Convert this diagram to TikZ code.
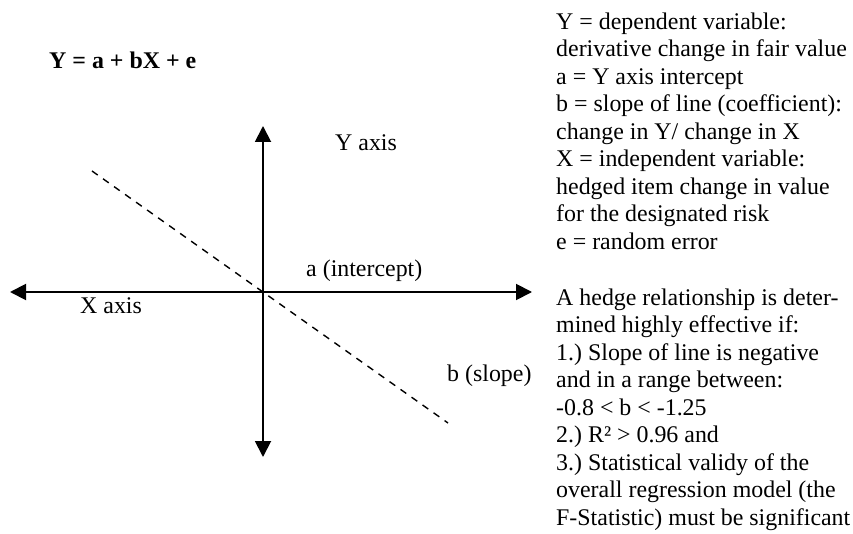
\documentclass[tikz,border=0pt]{standalone}
\usepackage{fontspec}
\setmainfont{Liberation Serif}
\usetikzlibrary{arrows.meta}
\begin{document}
\begin{tikzpicture}[x=1pt,y=-1pt,
  txt/.style={inner sep=0pt,font=\fontsize{23.9}{27.5}\selectfont\frenchspacing},
  axis/.style={line width=1.9pt,{Triangle[length=16pt,width=16pt]}-{Triangle[length=16pt,width=16pt]}},
  regline/.style={line width=1.4pt,dash pattern=on 7pt off 6.5pt}]
\useasboundingbox (0,0) rectangle (853,534);
\coordinate (xl) at (10,292);
\coordinate (xr) at (532,292);
\coordinate (yt) at (263,126);
\coordinate (yb) at (263,457);
\coordinate (ds) at (92,171);
\coordinate (de) at (448,423);
\draw[axis] (xl) -- (xr);
\draw[axis] (yt) -- (yb);
\draw[regline] (ds) -- (de);
\node[txt,anchor=base west] (eq) at (49,69) {\textbf{Y = a + bX + e}};
\node[txt,anchor=base west] (ya) at (335,151) {Y axis};
\node[txt,anchor=base west] (ai) at (306,277) {a (intercept)};
\node[txt,anchor=base west] (xa) at (80,313) {X axis};
\node[txt,anchor=base west] (bs) at (447,381) {b (slope)};
\node[txt,anchor=north west,align=left] (defs) at (556,12.5) {Y = dependent variable:\\derivative change in fair value\\a = Y axis intercept\\b = slope of line (coefficient):\\change in Y/ change in X\\X = independent variable:\\hedged item change in value\\for the designated risk\\e = random error};
\node[txt,anchor=north west,align=left] (crit) at (556,288.5) {A hedge relationship is deter-\\mined highly effective if:\\1.) Slope of line is negative\\and in a range between:\\-0.8 < b < -1.25\\2.) R² > 0.96 and\\3.) Statistical validy of the\\overall regression model (the\\F-Statistic) must be significant};
\end{tikzpicture}
\end{document}
